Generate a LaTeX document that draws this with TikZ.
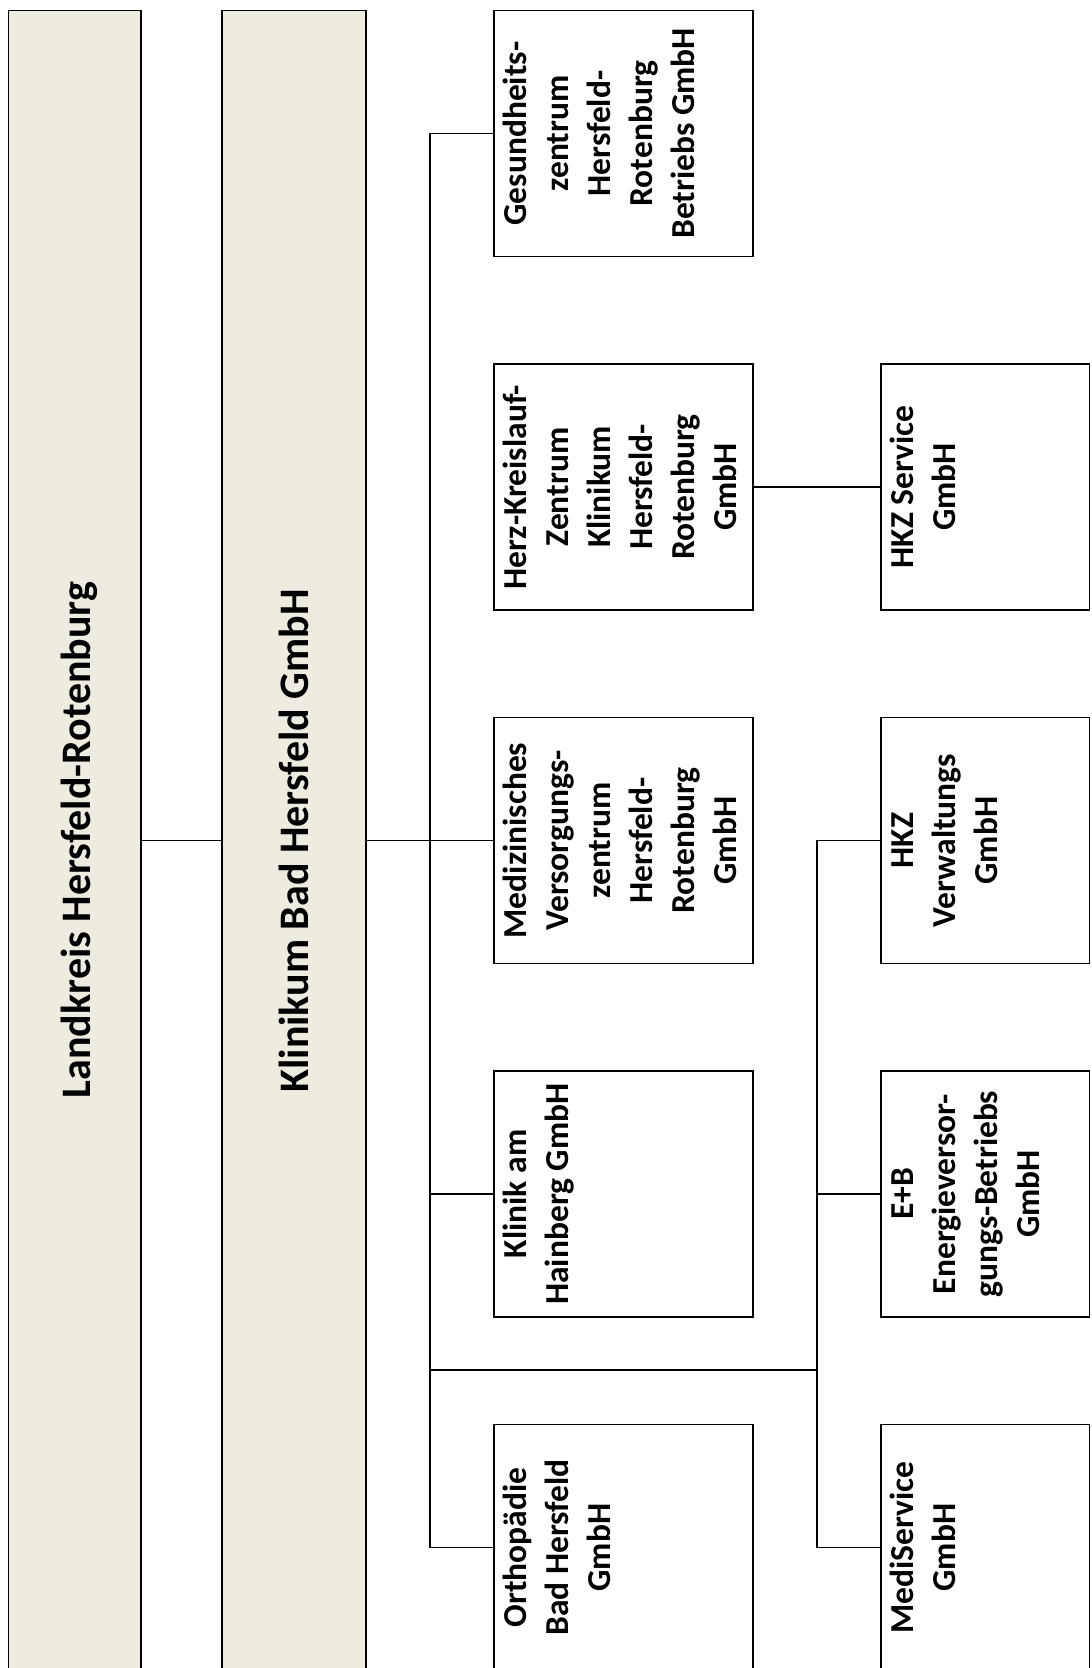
\documentclass[tikz,border=0pt]{standalone}
\usepackage{fontspec}
\setmainfont{Carlito}
\definecolor{boxtan}{HTML}{EEECE1}
\begin{document}
\begin{tikzpicture}[x=1pt,y=-1pt,
  bigbox/.style={draw=black, line width=1.8pt, fill=boxtan, rectangle, inner sep=0pt, minimum height=1660pt},
  subbox/.style={draw=black, line width=1.6pt, fill=white, rectangle, inner sep=0pt, minimum height=246pt},
  colone/.style={subbox, minimum width=258.7pt},
  coltwo/.style={subbox, minimum width=208.5pt},
  link/.style={draw=black, line width=1.4pt},
  bigtext/.style={rotate=90, anchor=base, font=\bfseries\fontsize{42}{50}\selectfont, inner sep=0pt},
  subtext/.style={rotate=90, anchor=north, align=center, font=\bfseries\fontsize{33.5}{42}\selectfont, inner sep=0pt}]
\useasboundingbox (0,0) rectangle (1092,1668);
\clip (0,0) rectangle (1092,1668);
\fill[white] (0,0) rectangle (1092,1668);
% big boxes
\node[bigbox, minimum width=132.5pt] (lk) at (74.75,840.5) {};
\node[bigbox, minimum width=144pt] (kb) at (294,840.5) {};
\node[bigtext] (lkt) at (90,840) {Landkreis Hersfeld-Rotenburg};
\node[bigtext] (kbt) at (308,841) {Klinikum Bad Hersfeld GmbH};
% column one
\node[colone] (gz) at (623.35,133.5) {};
\node[colone] (hz) at (623.35,487) {};
\node[colone] (md) at (623.35,840.5) {};
\node[colone] (hn) at (623.35,1194) {};
\node[colone] (or) at (623.35,1547.5) {};
% column two
\node[coltwo] (hs) at (985.25,487) {};
\node[coltwo] (hv) at (985.25,840.5) {};
\node[coltwo] (eb) at (985.25,1194) {};
\node[coltwo] (ms) at (985.25,1547.5) {};
% texts
\node[subtext] (gzt) at ([xshift=8pt]gz.west) {\rule{0pt}{25pt}Gesundheits-\\zentrum\\Hersfeld-\\Rotenburg\\Betriebs GmbH};
\node[subtext] (hzt) at ([xshift=8pt]hz.west) {\rule{0pt}{25pt}Herz-Kreislauf-\\Zentrum\\Klinikum\\Hersfeld-\\Rotenburg\\GmbH};
\node[subtext] (mdt) at ([xshift=8pt]md.west) {\rule{0pt}{25pt}Medizinisches\\Versorgungs-\\zentrum\\Hersfeld-\\Rotenburg\\GmbH};
\node[subtext] (hnt) at ([xshift=8pt]hn.west) {\rule{0pt}{25pt}Klinik am\\Hainberg GmbH};
\node[subtext] (ort) at ([xshift=8pt]or.west) {\rule{0pt}{25pt}Orthopädie\\Bad Hersfeld\\GmbH};
\node[subtext] (hst) at ([xshift=8pt]hs.west) {\rule{0pt}{25pt}HKZ Service\\GmbH};
\node[subtext] (hvt) at ([xshift=8pt]hv.west) {\rule{0pt}{25pt}HKZ\\Verwaltungs\\GmbH};
\node[subtext] (ebt) at ([xshift=8pt]eb.west) {\rule{0pt}{25pt}E+B\\Energieversor-\\gungs-Betriebs\\GmbH};
\node[subtext] (mst) at ([xshift=8pt]ms.west) {\rule{0pt}{25pt}MediService\\GmbH};
% connectors
\coordinate (t1) at (430,1370);
\coordinate (t2) at (817,1370);
\draw[link] (lk.east) -- (kb.west);
\draw[link] (kb.east) -- (md.west);
\draw[link] (gz.west) -- (gz.west -| t1) -- (or.west -| t1) -- (or.west);
\draw[link] (hn.west) -- (hn.west -| t1);
\draw[link] (hz.east) -- (hs.west);
\draw[link] (t1) -- (t2);
\draw[link] (hv.west) -- (hv.west -| t2) -- (ms.west -| t2) -- (ms.west);
\draw[link] (eb.west) -- (eb.west -| t2);
\end{tikzpicture}
\end{document}
